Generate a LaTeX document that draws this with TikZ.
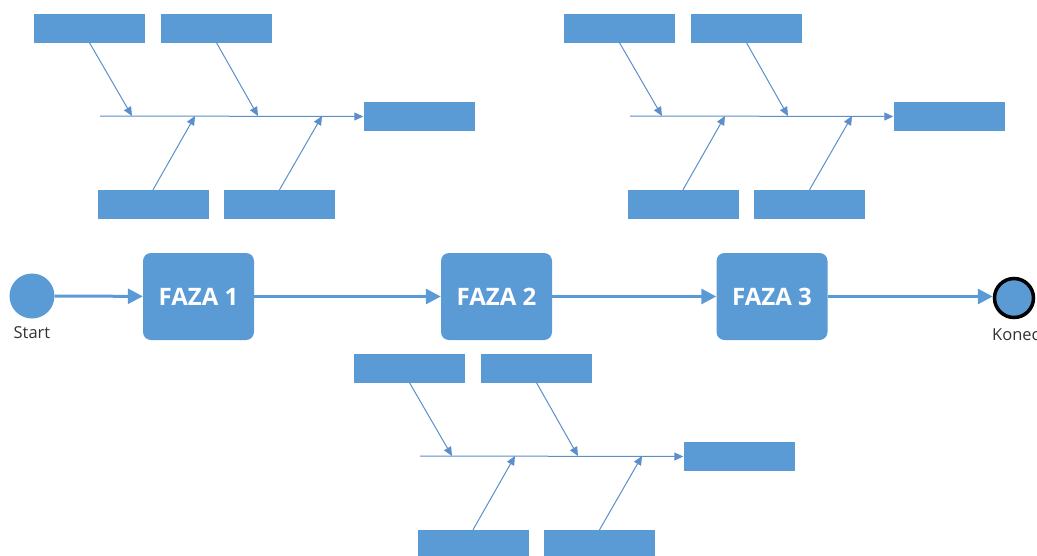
\documentclass[tikz,border=0pt]{standalone}
\usepackage{fontspec}
\setmainfont{Open Sans}
\usetikzlibrary{arrows.meta}
\definecolor{boxblue}{HTML}{5B9BD5}
\definecolor{boneblue}{HTML}{5A8FCB}
\tikzset{
  cause/.style={rectangle, fill=boxblue, minimum width=111pt, minimum height=29pt, inner sep=0pt},
  phase/.style={rectangle, rounded corners=8pt, fill=boxblue, minimum width=111pt, minimum height=87pt,
                inner sep=0pt, text=white, font=\bfseries\fontsize{24}{28}\selectfont},
  bone/.style={draw=boneblue, line width=1pt, -{Triangle[length=9pt,width=8pt]}},
  flow/.style={draw=boxblue, line width=3pt, -{Triangle[length=15pt,width=15pt]}},
  caption/.style={font=\fontsize{16.5}{20}\selectfont, text=black!80, inner sep=0pt}
}
\begin{document}
\begin{tikzpicture}[x=1pt, y=-1pt]
\useasboundingbox (0,0) rectangle (1037,555);

% three fishbone groups, each shifted from the first one
\foreach \g/\dx/\dy in {A/0/0, B/530/0, C/320/340}{
  \begin{scope}[shift={(\dx,\dy)}]
    \node[cause] (\g t1) at (89.5,28) {};
    \node[cause] (\g t2) at (216.5,28) {};
    \node[cause] (\g b1) at (153,204.5) {};
    \node[cause] (\g b2) at (279.5,204.5) {};
    \node[cause] (\g h)  at (419,116.5) {};
    \coordinate (\g s)  at (100,116);
    \coordinate (\g e1) at (132,116);
    \coordinate (\g e2) at (258,116);
    \coordinate (\g e3) at (195,116);
    \coordinate (\g e4) at (322,116);
    \draw[bone] (\g s) -- (\g h.west);
    \draw[bone] (\g t1.south) -- (\g e1);
    \draw[bone] (\g t2.south) -- (\g e2);
    \draw[bone] (\g b1.north) -- (\g e3);
    \draw[bone] (\g b2.north) -- (\g e4);
  \end{scope}
}

% main process row
\node[circle, fill=boxblue, minimum size=45pt, inner sep=0pt] (start) at (32,296) {};
\node[caption, anchor=base] (startlbl) at (32,338) {Start};
\node[phase] (f1) at (198.5,296.5) {FAZA 1};
\node[phase] (f2) at (496.5,296.5) {FAZA 2};
\node[phase] (f3) at (772,296.5) {FAZA 3};
\node[circle, fill=boxblue, draw=black, line width=3.5pt, minimum size=39pt, inner sep=0pt] (end) at (1014,298) {};
\node[caption, anchor=base west] (endlbl) at (992,340) {Konec};

\draw[flow] (start) -- (f1);
\draw[flow] (f1) -- (f2);
\draw[flow] (f2) -- (f3);
\draw[flow] (f3.east) -- (end.west |- f3.east);
\end{tikzpicture}
\end{document}
